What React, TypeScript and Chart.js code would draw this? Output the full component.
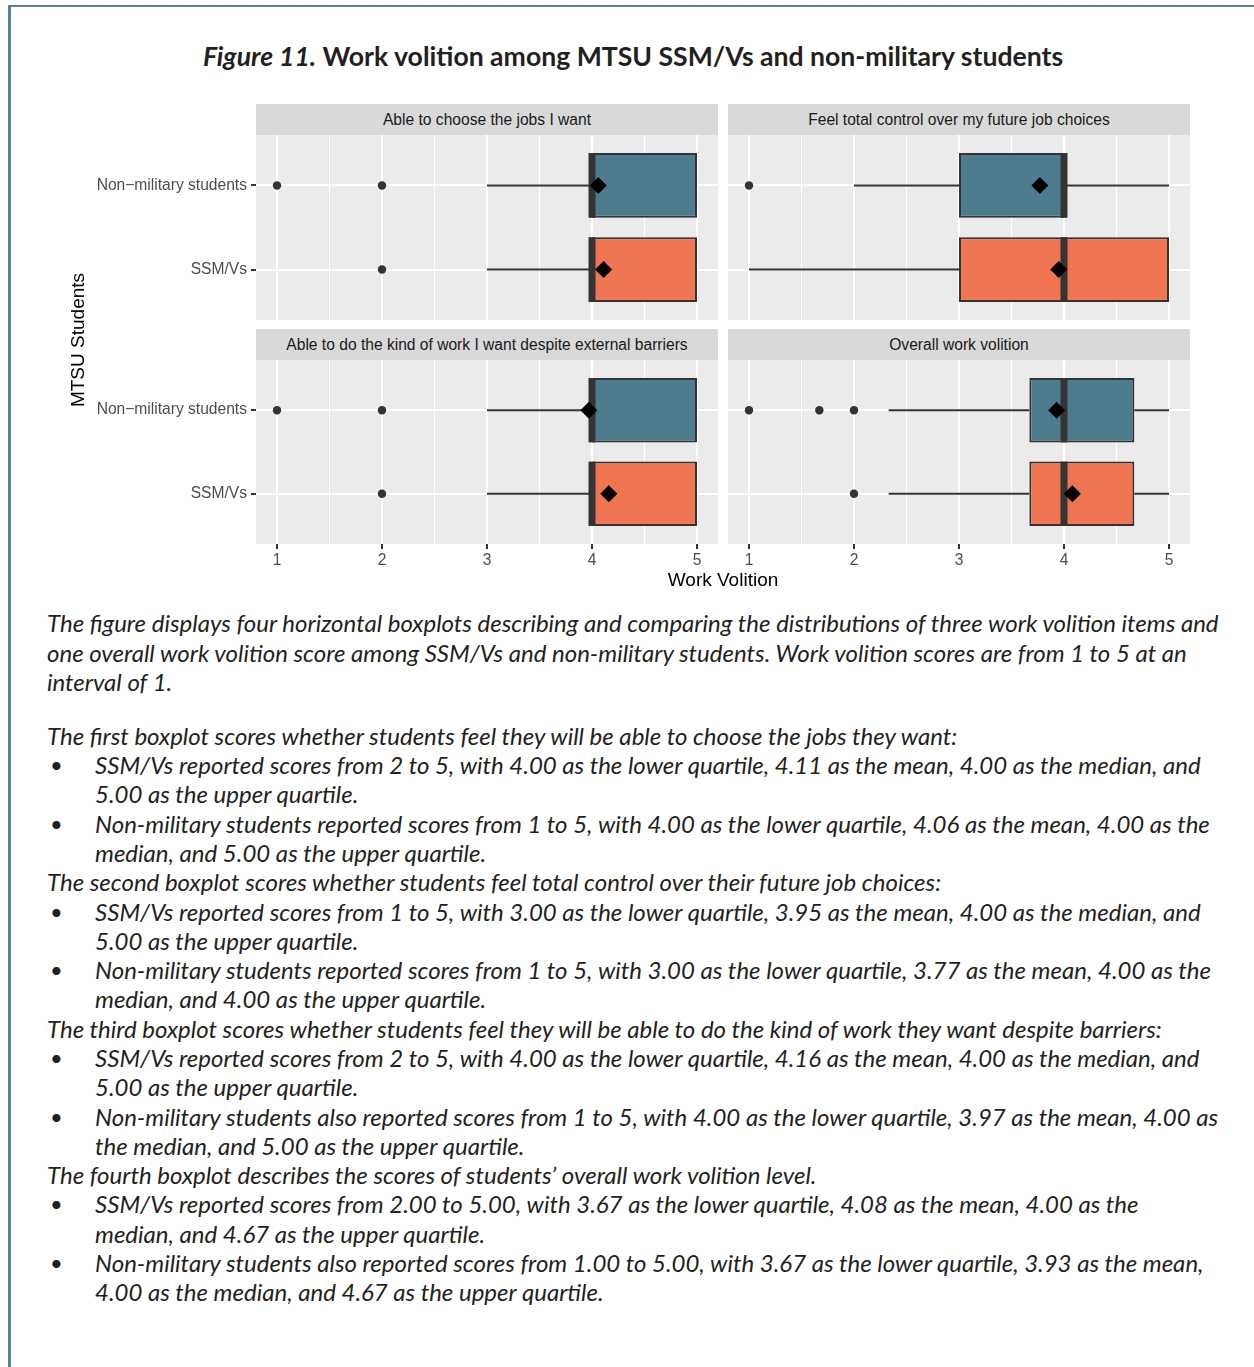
import React, { useEffect, useRef } from 'react';
import { Chart, registerables } from 'chart.js';

Chart.register(...registerables);

// ---------------- data ----------------
const panelTitles = [
  'Able to choose the jobs I want',
  'Feel total control over my future job choices',
  'Able to do the kind of work I want despite external barriers',
  'Overall work volition',
];
const groups = ['Non\u2212military students', 'SSM/Vs'];
// each row: one panel, [non-military, SSM/Vs]
const whiskerLow = [[3, 3], [2, 1], [3, 3], [2.33, 2.33]];
const lowerQuartile = [[4, 4], [3, 3], [4, 4], [3.67, 3.67]];
const medianValue = [[4, 4], [4, 4], [4, 4], [4, 4]];
const upperQuartile = [[5, 5], [4, 5], [5, 5], [4.67, 4.67]];
const whiskerHigh = [[5, 5], [5, 5], [5, 5], [5, 5]];
const meanValue = [[4.06, 4.11], [3.77, 3.95], [3.97, 4.16], [3.93, 4.08]];
const outlierValues = [
  [[1, 2], [2]],
  [[1], []],
  [[1, 2], [2]],
  [[1, 1.67, 2], [2]],
];
const xMajorTicks = [1, 2, 3, 4, 5];
const xMinorTicks = [1.5, 2.5, 3.5, 4.5];
const xAxisTitle = 'Work Volition';
const yAxisTitle = 'MTSU Students';

const titleItalic = 'Figure 11.';
const titleBold = ' Work volition among MTSU SSM/Vs and non-military students';

type Block = { bullet: boolean; lines: string[]; gapBefore?: boolean };
const textBlocks: Block[] = [
  {
    bullet: false,
    lines: [
      'The figure displays four horizontal boxplots describing and comparing the distributions of three work volition items and',
      'one overall work volition score among SSM/Vs and non-military students. Work volition scores are from 1 to 5 at an',
      'interval of 1.',
    ],
  },
  { bullet: false, gapBefore: true, lines: ['The first boxplot scores whether students feel they will be able to choose the jobs they want:'] },
  { bullet: true, lines: ['SSM/Vs reported scores from 2 to 5, with 4.00 as the lower quartile, 4.11 as the mean, 4.00 as the median, and', '5.00 as the upper quartile.'] },
  { bullet: true, lines: ['Non-military students reported scores from 1 to 5, with 4.00 as the lower quartile, 4.06 as the mean, 4.00 as the', 'median, and 5.00 as the upper quartile.'] },
  { bullet: false, lines: ['The second boxplot scores whether students feel total control over their future job choices:'] },
  { bullet: true, lines: ['SSM/Vs reported scores from 1 to 5, with 3.00 as the lower quartile, 3.95 as the mean, 4.00 as the median, and', '5.00 as the upper quartile.'] },
  { bullet: true, lines: ['Non-military students reported scores from 1 to 5, with 3.00 as the lower quartile, 3.77 as the mean, 4.00 as the', 'median, and 4.00 as the upper quartile.'] },
  { bullet: false, lines: ['The third boxplot scores whether students feel they will be able to do the kind of work they want despite barriers:'] },
  { bullet: true, lines: ['SSM/Vs reported scores from 2 to 5, with 4.00 as the lower quartile, 4.16 as the mean, 4.00 as the median, and', '5.00 as the upper quartile.'] },
  { bullet: true, lines: ['Non-military students also reported scores from 1 to 5, with 4.00 as the lower quartile, 3.97 as the mean, 4.00 as', 'the median, and 5.00 as the upper quartile.'] },
  { bullet: false, lines: ['The fourth boxplot describes the scores of students\u2019 overall work volition level.'] },
  { bullet: true, lines: ['SSM/Vs reported scores from 2.00 to 5.00, with 3.67 as the lower quartile, 4.08 as the mean, 4.00 as the', 'median, and 4.67 as the upper quartile.'] },
  { bullet: true, lines: ['Non-military students also reported scores from 1.00 to 5.00, with 3.67 as the lower quartile, 3.93 as the mean,', '4.00 as the median, and 4.67 as the upper quartile.'] },
];

// ---------------- styles ----------------
const SANS = '"Liberation Sans", Arial, Helvetica, sans-serif';
const LATO = 'Lato, "Open Sans", sans-serif';
const groupColors = ['#4E7C8F', '#F07552'];
const OUTLINE = '#333333';
const PANEL_BG = '#EBEBEB';
const STRIP_BG = '#D9D9D9';
const BOX_WIDTH = 0.77;
const TICK_FONT = 15.6;

const panelBg = {
  id: 'panelBg',
  beforeDraw(chart: any) {
    const { ctx, chartArea } = chart;
    ctx.save();
    ctx.fillStyle = PANEL_BG;
    ctx.fillRect(chartArea.left, chartArea.top, chartArea.right - chartArea.left, chartArea.bottom - chartArea.top);
    ctx.restore();
  },
};

type PanelProps = { p: number; left: number; top: number; width: number; height: number; showY: boolean; showX: boolean; yWidth: number; xHeight: number };

function Panel({ p, left, top, width, height, showY, showX, yWidth, xHeight }: PanelProps) {
  const ref = useRef<HTMLCanvasElement>(null);
  useEffect(() => {
    const level = (i: number) => groups.length - i;
    const half = BOX_WIDTH / 2;
    const datasets: any[] = [];
    datasets.push({
      type: 'bar',
      indexAxis: 'y',
      data: groups.map((_, i) => ({ y: level(i), x: [lowerQuartile[p][i], upperQuartile[p][i]] })),
      backgroundColor: groupColors,
      borderColor: OUTLINE,
      borderWidth: 2,
      borderSkipped: false,
      categoryPercentage: 1,
      barPercentage: BOX_WIDTH,
      order: 3,
    });
    groups.forEach((_, i) => {
      datasets.push({
        type: 'line',
        data: [{ x: whiskerLow[p][i], y: level(i) }, { x: lowerQuartile[p][i], y: level(i) }],
        borderColor: OUTLINE, borderWidth: 2, pointRadius: 0, fill: false, order: 4,
      });
      datasets.push({
        type: 'line',
        data: [{ x: upperQuartile[p][i], y: level(i) }, { x: whiskerHigh[p][i], y: level(i) }],
        borderColor: OUTLINE, borderWidth: 2, pointRadius: 0, fill: false, order: 4,
      });
      datasets.push({
        type: 'line',
        data: [{ x: medianValue[p][i], y: level(i) - half }, { x: medianValue[p][i], y: level(i) + half }],
        borderColor: OUTLINE, borderWidth: 7, borderCapStyle: 'butt', pointRadius: 0, fill: false, order: 2,
      });
    });
    datasets.push({
      type: 'scatter',
      data: groups.flatMap((_, i) => outlierValues[p][i].map((v) => ({ x: v, y: level(i) }))),
      pointRadius: 4.2,
      backgroundColor: OUTLINE,
      borderColor: OUTLINE,
      borderWidth: 0,
      order: 1,
    });
    datasets.push({
      type: 'scatter',
      data: groups.map((_, i) => ({ x: meanValue[p][i], y: level(i) })),
      pointStyle: 'rectRot',
      pointRadius: 8.5,
      backgroundColor: '#000000',
      borderColor: '#000000',
      borderWidth: 0,
      order: 0,
    });

    const allX = [...xMajorTicks, ...xMinorTicks].sort((a, b) => a - b);
    const isMajor = (v: number) => xMajorTicks.includes(v);
    const span = xMajorTicks[xMajorTicks.length - 1] - xMajorTicks[0];
    const chart = new Chart(ref.current as HTMLCanvasElement, {
      type: 'scatter',
      data: { datasets },
      plugins: [panelBg],
      options: {
        responsive: false,
        animation: false,
        events: [],
        devicePixelRatio: 1,
        layout: { padding: 0, autoPadding: false },
        plugins: { legend: { display: false }, title: { display: false }, tooltip: { enabled: false } },
        scales: {
          x: {
            type: 'linear',
            min: xMajorTicks[0] - 0.05 * span,
            max: xMajorTicks[xMajorTicks.length - 1] + 0.05 * span,
            offset: false,
            beginAtZero: false,
            afterBuildTicks: (s: any) => { s.ticks = allX.map((v) => ({ value: v })); },
            afterFit: (s: any) => { s.height = xHeight; s.paddingLeft = 0; s.paddingRight = 0; s.paddingTop = 0; s.paddingBottom = 0; },
            ticks: {
              display: showX,
              autoSkip: false,
              maxRotation: 0,
              padding: 2,
              color: '#4D4D4D',
              font: { family: SANS, size: TICK_FONT },
              callback: (v: any) => (isMajor(Number(v)) ? String(v) : ''),
            },
            grid: {
              color: '#FFFFFF',
              lineWidth: (c: any) => (c.tick && isMajor(c.tick.value) ? 2 : 1),
              drawTicks: showX,
              tickLength: 5,
              tickWidth: 2,
              tickColor: (c: any) => (c.tick && isMajor(c.tick.value) ? OUTLINE : 'rgba(0,0,0,0)'),
              offset: false,
            },
            border: { display: false },
          },
          y: {
            type: 'linear',
            min: 1 - 0.6,
            max: groups.length + 0.6,
            offset: false,
            beginAtZero: false,
            afterBuildTicks: (s: any) => { s.ticks = groups.map((_, i) => ({ value: level(i) })).reverse(); },
            afterFit: (s: any) => { s.width = yWidth; s.paddingLeft = 0; s.paddingRight = 0; s.paddingTop = 0; s.paddingBottom = 0; },
            ticks: {
              display: showY,
              autoSkip: false,
              padding: 4,
              color: '#4D4D4D',
              font: { family: SANS, size: TICK_FONT },
              callback: (v: any) => groups[groups.length - Number(v)] ?? '',
            },
            grid: {
              color: '#FFFFFF',
              lineWidth: 2,
              drawTicks: showY,
              tickLength: 5,
              tickWidth: 2,
              tickColor: OUTLINE,
              offset: false,
            },
            border: { display: false },
          },
        },
      } as any,
    } as any);
    return () => chart.destroy();
  }, [p, showX, showY, yWidth, xHeight]);
  return (
    <canvas
      ref={ref}
      width={width}
      height={height}
      style={{ position: 'absolute', left, top, width, height }}
    />
  );
}

function Strip({ text, left, top, width }: { text: string; left: number; top: number; width: number }) {
  return (
    <div
      style={{
        position: 'absolute', left, top, width, height: 31, background: STRIP_BG,
        color: '#1A1A1A', fontFamily: SANS, fontSize: TICK_FONT, lineHeight: '31px', textAlign: 'center',
        whiteSpace: 'nowrap',
      }}
    >
      {text}
    </div>
  );
}

export default function App() {
  const colL = { strip: 256, canvas: 60, w: 658, yW: 196 };
  const colR = { strip: 728, canvas: 728, w: 462, yW: 0 };
  const panelW = 462;
  const rowT = { strip: 104, canvas: 135, h: 185, xH: 0 };
  const rowB = { strip: 329, canvas: 360, h: 214, xH: 30 };
  const layout = [
    { col: colL, row: rowT, showY: true, showX: false },
    { col: colR, row: rowT, showY: false, showX: false },
    { col: colL, row: rowB, showY: true, showX: true },
    { col: colR, row: rowB, showY: false, showX: true },
  ];
  const LINE = 29.28;
  return (
    <div style={{ position: 'absolute', left: 0, top: 0, width: 1254, height: 1367, background: '#FFFFFF', overflow: 'hidden' }}>
      <div style={{ position: 'absolute', left: 8, top: 5, width: 1246, height: 2, background: '#5B8096' }} />
      <div style={{ position: 'absolute', left: 8, top: 5, width: 3, height: 1362, background: '#5B8096' }} />
      <div
        style={{
          position: 'absolute', left: 12, top: 40, width: 1242, textAlign: 'center', fontFamily: LATO,
          fontSize: 26.6, lineHeight: '32px', color: '#231F20', fontWeight: 700, whiteSpace: 'nowrap',
        }}
      >
        <span style={{ fontStyle: 'italic' }}>{titleItalic}</span>
        {titleBold}
      </div>

      {layout.map((l, p) => (
        <React.Fragment key={p}>
          <Strip text={panelTitles[p]} left={l.col.strip} top={l.row.strip} width={panelW} />
          <Panel
            p={p}
            left={l.col.canvas}
            top={l.row.canvas}
            width={l.col.w}
            height={l.row.h}
            showY={l.showY}
            showX={l.showX}
            yWidth={l.col.yW}
            xHeight={l.row.xH}
          />
        </React.Fragment>
      ))}

      <div
        style={{
          position: 'absolute', left: 256, top: 568, width: 934, textAlign: 'center', fontFamily: SANS,
          fontSize: 19, lineHeight: '24px', color: '#000000',
        }}
      >
        {xAxisTitle}
      </div>
      <div
        style={{
          position: 'absolute', left: 78 - 120, top: 340 - 12, width: 240, height: 24, textAlign: 'center',
          fontFamily: SANS, fontSize: 19, lineHeight: '24px', color: '#000000', transform: 'rotate(-90deg)',
        }}
      >
        {yAxisTitle}
      </div>

      <div
        style={{
          position: 'absolute', left: 47, top: 623 - LINE / 2, width: 1200, fontFamily: LATO, fontStyle: 'italic',
          fontSize: 24, lineHeight: `${LINE}px`, color: '#231F20',
        }}
      >
        {textBlocks.map((b, bi) => (
          <div key={bi} style={{ marginTop: b.gapBefore ? 24.7 : 0, position: 'relative', paddingLeft: b.bullet ? 48 : 0 }}>
            {b.bullet && (
              <span style={{ position: 'absolute', left: 3, top: 0, fontStyle: 'normal', fontSize: 22 }}>{'\u2022'}</span>
            )}
            {b.lines.map((ln, li) => (
              <div key={li} style={{ whiteSpace: 'nowrap' }}>{ln}</div>
            ))}
          </div>
        ))}
      </div>
    </div>
  );
}
